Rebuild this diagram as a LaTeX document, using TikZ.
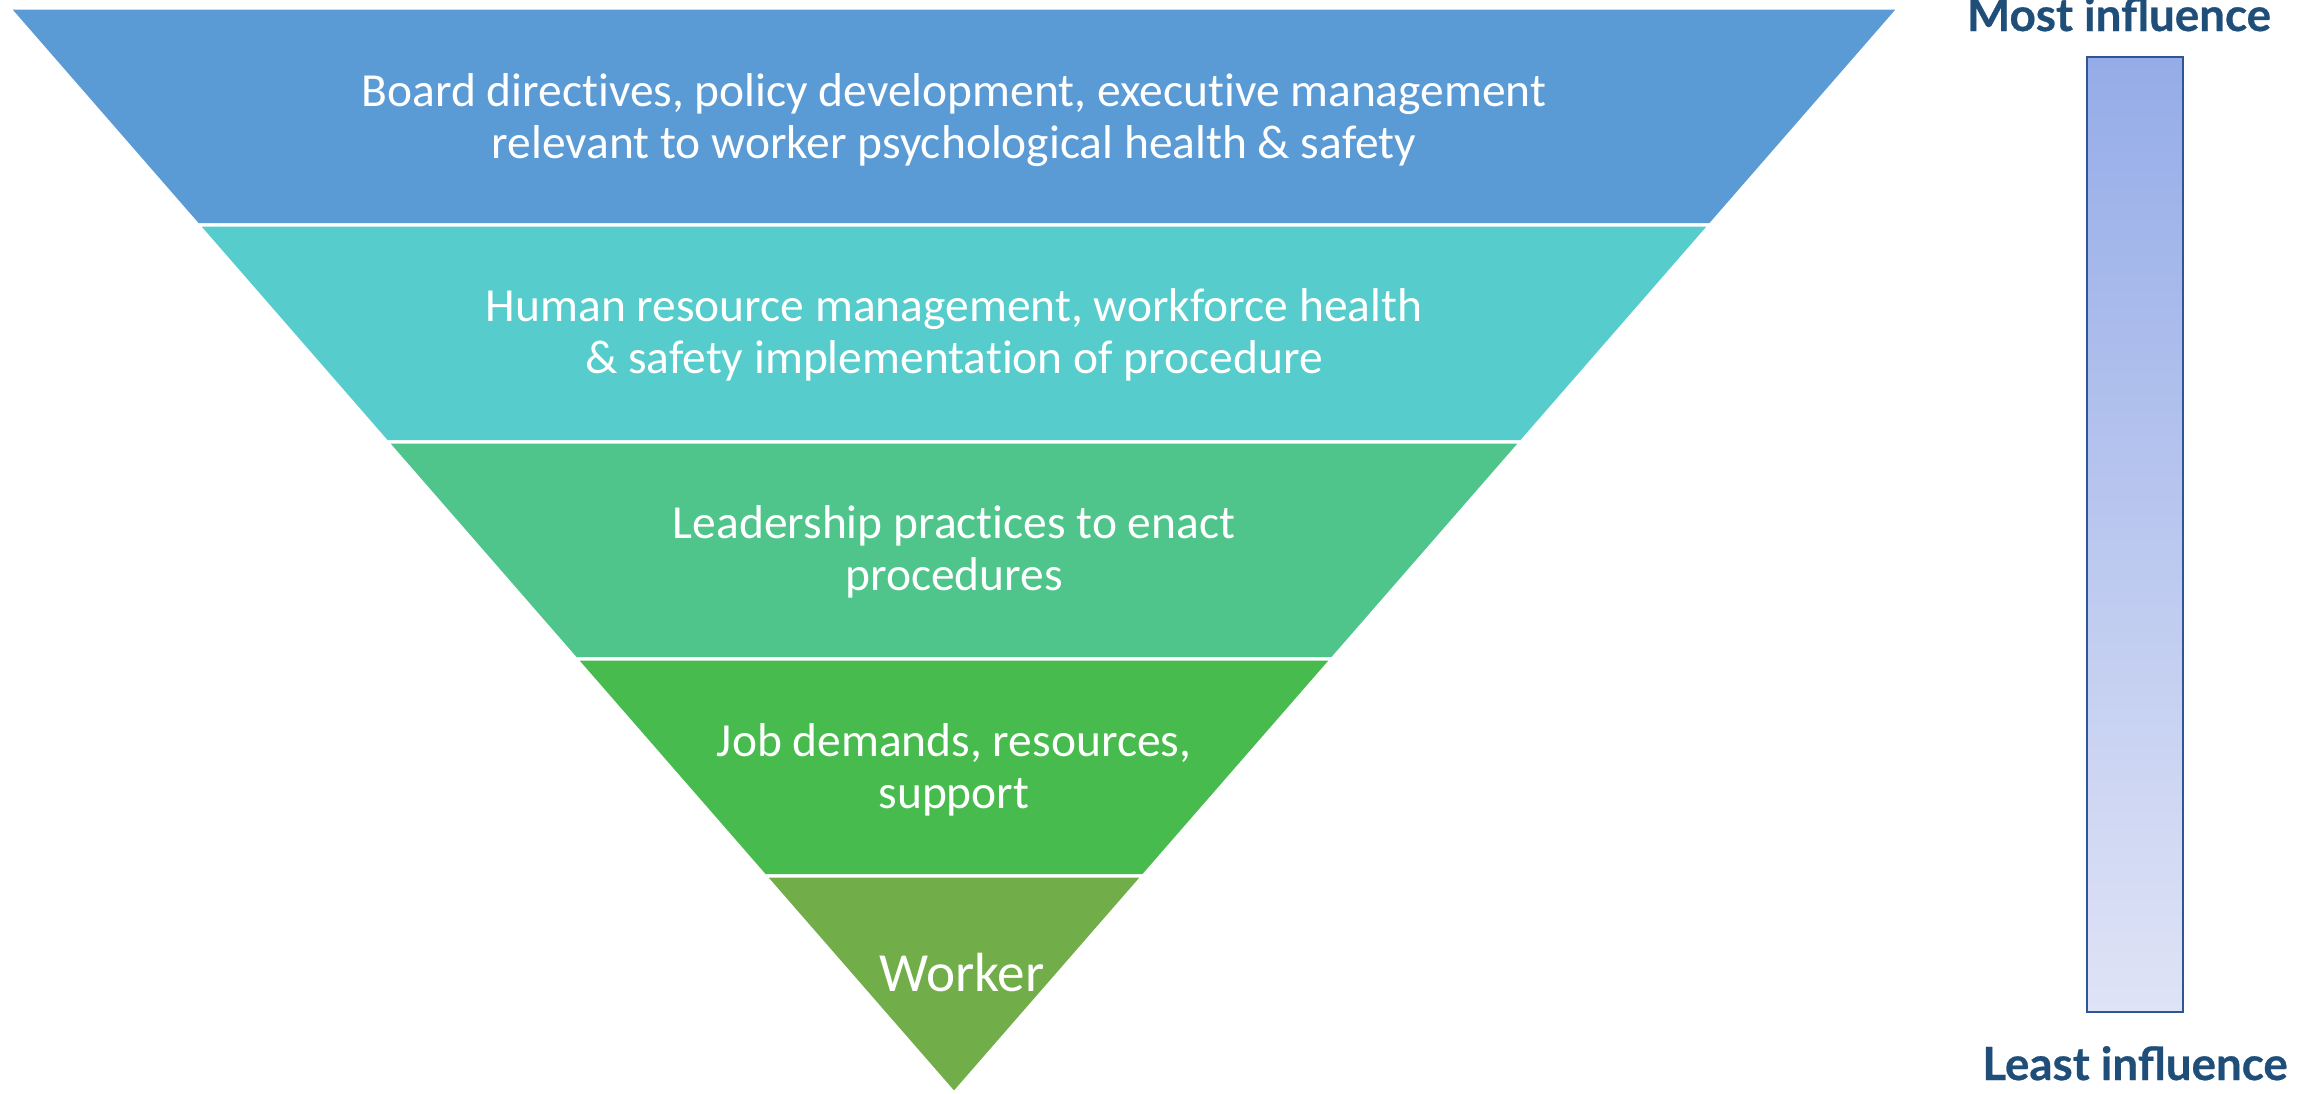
\documentclass[tikz,border=0pt]{standalone}
\usepackage{fontspec}
\setmainfont{Carlito}[Ligatures=NoCommon, Contextuals=NoAlternate]
\newfontfamily\headfont{Lato}[FakeBold=0.6]
\usetikzlibrary{positioning}

\definecolor{bandA}{HTML}{5B9BD5}
\definecolor{bandB}{HTML}{56CCCD}
\definecolor{bandC}{HTML}{4FC58B}
\definecolor{bandD}{HTML}{48BB4E}
\definecolor{bandE}{HTML}{71AD48}
\definecolor{barTop}{HTML}{95ACE8}
\definecolor{barBot}{HTML}{DFE3F6}
\definecolor{barEdge}{HTML}{2F5597}
\definecolor{headBlue}{HTML}{1F4E79}

\tikzset{
 bandtext/.style={white, align=center, font=\fontsize{13.5}{14.9}\selectfont},
 headtext/.style={headBlue, anchor=base, font=\headfont\bfseries\fontsize{13}{14}\selectfont}
}

\begin{document}
\begin{tikzpicture}[x=0.01cm,y=-0.01cm]
 \useasboundingbox (0,0) rectangle (2310,1093);

 %Coordinates
 \coordinate (apex) at (954,1093);

 %Bands of the funnel
 \foreach \ytop/\ybot/\col in {8/225/bandA, 225/442/bandB, 442/659/bandC, 659/876/bandD, 876/1093/bandE}{
   \pgfmathsetmacro{\wtop}{0.87097*(1093-\ytop)}
   \pgfmathsetmacro{\wbot}{0.87097*(1093-\ybot)}
   \fill[\col, draw=white, line width=0.9pt] (954-\wtop,\ytop) -- (954+\wtop,\ytop) -- (954+\wbot,\ybot) -- (954-\wbot,\ybot) -- cycle;
 }

 %Labels of bands
 \node (board) [bandtext] at (954,120) {Board directives, policy development, executive management\\relevant to worker psychological health \& safety};
 \node (hr) [bandtext] at (954,335) {Human resource management, workforce health\\\& safety implementation of procedure};
 \node (lead) [bandtext] at (954,552) {Leadership practices to enact\\procedures};
 \node (job) [bandtext] at (954,770) {Job demands, resources,\\support};
 \node (worker) [bandtext, font=\fontsize{15.7}{17}\selectfont] at (962,972) {Worker};

 %Influence bar
 \shade[top color=barTop, bottom color=barBot] (2087,57) rectangle (2183,1012);
 \draw[barEdge, line width=0.8pt] (2087,57) rectangle (2183,1012);

 \node (most) [headtext] at (2119,31) {Most influence};
 \node (least) [headtext] at (2135,1080) {Least influence};

\end{tikzpicture}
\end{document}
